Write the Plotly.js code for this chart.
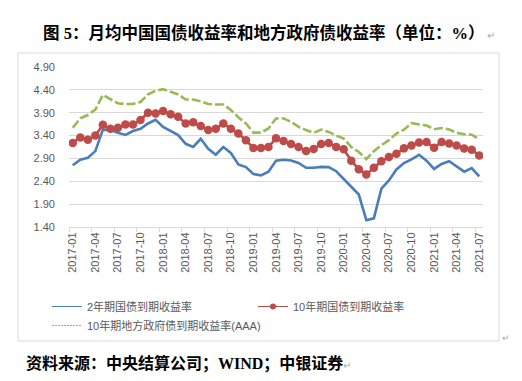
<!DOCTYPE html>
<html>
<head>
<meta charset="utf-8">
<script src="https://cdn.plot.ly/plotly-3.0.1.min.js"></script>
<style>
html,body{margin:0;padding:0;background:#fff;}
#chart{width:522px;height:381px;}
</style>
</head>
<body>
<div id="chart"></div>
<script>
var months = ["2017-01","2017-02","2017-03","2017-04","2017-05","2017-06","2017-07","2017-08","2017-09","2017-10","2017-11","2017-12",
"2018-01","2018-02","2018-03","2018-04","2018-05","2018-06","2018-07","2018-08","2018-09","2018-10","2018-11","2018-12",
"2019-01","2019-02","2019-03","2019-04","2019-05","2019-06","2019-07","2019-08","2019-09","2019-10","2019-11","2019-12",
"2020-01","2020-02","2020-03","2020-04","2020-05","2020-06","2020-07","2020-08","2020-09","2020-10","2020-11","2020-12",
"2021-01","2021-02","2021-03","2021-04","2021-05","2021-06","2021-07"];

var yield2y = [2.75,2.87,2.915,3.06,3.53,3.52,3.46,3.415,3.50,3.55,3.665,3.745,
3.59,3.50,3.41,3.22,3.15,3.33,3.11,2.98,3.15,3.02,2.77,2.71,
2.56,2.53,2.61,2.85,2.87,2.855,2.80,2.695,2.695,2.715,2.71,2.62,
2.46,2.28,2.11,1.55,1.59,2.24,2.42,2.66,2.80,2.88,2.98,2.85,
2.67,2.78,2.84,2.73,2.61,2.69,2.51];

var yield10y = [3.24,3.36,3.31,3.40,3.635,3.55,3.57,3.64,3.64,3.74,3.90,3.885,
3.94,3.865,3.81,3.665,3.69,3.61,3.52,3.55,3.665,3.55,3.445,3.30,
3.13,3.13,3.15,3.34,3.28,3.215,3.15,3.06,3.105,3.215,3.24,3.15,
3.10,2.85,2.665,2.55,2.695,2.84,2.93,3.00,3.12,3.185,3.25,3.26,
3.135,3.26,3.225,3.185,3.115,3.09,2.965];

var localAAA = [3.57,3.775,3.85,3.97,4.29,4.20,4.105,4.09,4.09,4.135,4.30,4.38,
4.415,4.36,4.30,4.19,4.19,4.15,4.09,4.08,4.08,3.96,3.80,3.665,
3.465,3.465,3.555,3.775,3.775,3.70,3.59,3.52,3.46,3.53,3.48,3.40,
3.335,3.15,3.04,2.885,3.06,3.19,3.30,3.445,3.53,3.67,3.645,3.62,
3.54,3.565,3.535,3.46,3.43,3.42,3.32];

var names = ["2年期国债到期收益率","10年期国债到期收益率","10年期地方政府债到期收益率(AAA)"];
var titleText = "图 5：月均中国国债收益率和地方政府债收益率（单位：%）";
var sourceText = "资料来源：中央结算公司；WIND；中银证券";

var blue = "#4A7EBB", red = "#BE4B48", green = "#98B954";

var traces = [
  {x: months, y: yield2y, type: "scatter", mode: "lines", line: {color: blue, width: 2.6}, showlegend: false, hoverinfo: "skip"},
  {x: months, y: localAAA, type: "scatter", mode: "lines", line: {color: green, width: 2.6, dash: "9px,3px"}, showlegend: false, hoverinfo: "skip"},
  {x: months, y: yield10y, type: "scatter", mode: "lines+markers", line: {color: red, width: 2.6}, marker: {color: red, size: 8.5}, showlegend: false, hoverinfo: "skip"},
  // legend entries
  {x: [null], y: [null], type: "scatter", mode: "lines", name: names[0], line: {color: blue, width: 1}},
  {x: [null], y: [null], type: "scatter", mode: "lines+markers", name: names[1], line: {color: red, width: 1}, marker: {color: red, size: 6}},
  {x: [null], y: [null], type: "scatter", mode: "lines", name: names[2], line: {color: green, width: 1, dash: "2px,1px"}}
];

var L = 69, R = 483, T = 67, B = 227;
function px(x){ return (x - L) / (R - L); }
function py(y){ return (B - y) / (B - T); }

var fontFam = "Liberation Sans, Noto Sans CJK SC, sans-serif";
var serifFam = "Liberation Serif, Noto Sans CJK SC, serif";

var layout = {
  width: 522, height: 381,
  margin: {l: L, r: 522 - R, t: T, b: 381 - B},
  paper_bgcolor: "#fff", plot_bgcolor: "#fff",
  title: {
    text: "<b>" + titleText + "</b><span style=\"color:#aaaaaa;font-size:10px\"> ↵</span>",
    font: {family: serifFam, size: 16.5, color: "#000"},
    xref: "container", yref: "container",
    x: 43/522, xanchor: "left", y: 1 - 33/381, yanchor: "middle"
  },
  xaxis: {
    type: "category",
    range: [-0.5, 54.5],
    tickmode: "linear", tick0: 0, dtick: 3,
    tickson: "boundaries",
    ticks: "outside", ticklen: 4, tickcolor: "#d9d9d9", tickwidth: 1,
    showline: true, linecolor: "#d9d9d9", linewidth: 1,
    showgrid: false, zeroline: false,
    tickangle: -90,
    tickfont: {family: fontFam, size: 11, color: "#595959"},
    fixedrange: true
  },
  yaxis: {
    range: [1.40, 4.90],
    tickmode: "linear", tick0: 1.40, dtick: 0.5,
    tickformat: ".2f",
    showgrid: true, gridcolor: "#d9d9d9", gridwidth: 1,
    zeroline: false, showline: false, ticks: "",
    ticklabelstandoff: 13,
    tickfont: {family: fontFam, size: 11, color: "#595959"},
    fixedrange: true
  },
  legend: {
    orientation: "h",
    x: px(47), xanchor: "left",
    y: py(292), yanchor: "top",
    entrywidth: 161, entrywidthmode: "pixels",
    font: {family: fontFam, size: 11, color: "#595959"},
    bgcolor: "rgba(0,0,0,0)",
    traceorder: "normal"
  },
  shapes: [
    {type: "rect", xref: "paper", yref: "paper", x0: px(18), x1: px(499), y0: py(341), y1: py(53),
     line: {color: "#d9d9d9", width: 1}, fillcolor: "rgba(0,0,0,0)", layer: "below"}
  ],
  annotations: [
    {xref: "paper", yref: "paper", x: px(24), y: py(363), xanchor: "left", yanchor: "middle",
     text: "<b>" + sourceText + "</b><span style=\"color:#aaaaaa;font-size:10px\">↵</span>",
     showarrow: false, font: {family: serifFam, size: 16, color: "#000"}},
    {xref: "paper", yref: "paper", x: px(500), y: py(338), xanchor: "left", yanchor: "middle",
     text: "↵", showarrow: false, font: {family: fontFam, size: 9, color: "#aaaaaa"}}
  ],
  hovermode: false
};

Plotly.newPlot("chart", traces, layout, {displayModeBar: false, staticPlot: true});
</script>
</body>
</html>
